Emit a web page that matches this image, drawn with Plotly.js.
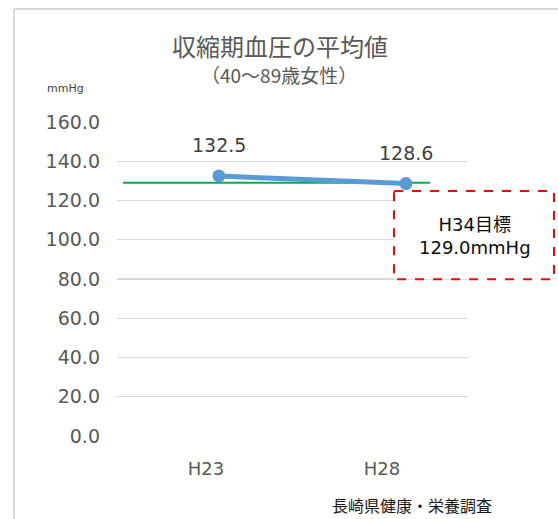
<!DOCTYPE html>
<html>
<head>
<meta charset="utf-8">
<script src="https://cdn.plot.ly/plotly-3.0.1.min.js"></script>
<style>html,body{margin:0;padding:0;background:#fff;}#chart{width:558px;height:519px;}</style>
</head>
<body>
<div id="chart"></div>
<script>
const categories = ['H23', 'H28'];
const values = [132.5, 128.6];
const targetValue = 129.0;
const targetLabel = 'H34目標<br>129.0mmHg';
const yTicks = [0, 20, 40, 60, 80, 100, 120, 140, 160];
const titleText = '収縮期血圧の平均値';
const subtitleText = '（40～89歳女性）';
const unitText = 'mmHg';
const sourceText = '長崎県健康・栄養調査';

const W = 558, H = 519;
const L = 117, R = 468, T = 122, B = 435.7;
const px = x => (x - L) / (R - L);
const py = y => (B - y) / (B - T);

const font = '"DejaVu Sans", "Noto Sans CJK JP", sans-serif';
const cjk = '"Noto Sans CJK JP", "DejaVu Sans", sans-serif';

const data = [
  {
    x: categories, y: values, xaxis: 'x2', yaxis: 'y',
    type: 'scatter', mode: 'lines+markers',
    line: {color: '#5b9bd5', width: 5},
    marker: {color: '#5b9bd5', size: 13},
    hoverinfo: 'skip', showlegend: false
  },
  {
    x: categories, y: [null, null], xaxis: 'x', yaxis: 'y',
    type: 'scatter', mode: 'markers', showlegend: false, hoverinfo: 'skip'
  }
];

function txt(x, y, text, f, size, color) {
  return {x: px(x), y: py(y), xref: 'paper', yref: 'paper', text: text, showarrow: false,
          xanchor: 'center', yanchor: 'middle', font: {family: f, size: size, color: color}};
}

const annotations = values.map((v, i) => ({
  x: categories[i], y: v, xref: 'x2', yref: 'y',
  text: v.toFixed(1), showarrow: false, yshift: 31, xanchor: 'center', yanchor: 'middle',
  font: {family: font, size: 19, color: '#404040'}
}));
annotations.push(
  txt(280, 46, titleText, cjk, 24, '#595959'),
  txt(279, 75, subtitleText, cjk, 19, '#595959'),
  txt(65, 89, unitText, font, 11, '#404040'),
  txt(475, 236, targetLabel, font, 18, '#0d0d0d'),
  txt(412, 505, sourceText, cjk, 16, '#1a1a1a')
);

const shapes = [
  {type: 'line', xref: 'paper', yref: 'y', x0: px(123), x1: px(430), y0: targetValue, y1: targetValue,
   line: {color: '#00b050', width: 2}, layer: 'below'},
  {type: 'rect', xref: 'paper', yref: 'paper', x0: px(394), x1: px(554), y0: py(191), y1: py(279),
   line: {color: '#ff0000', width: 2, dash: 'dash'}, fillcolor: 'rgba(255,255,255,1)'},
  {type: 'line', xref: 'paper', yref: 'paper', x0: px(14), x1: px(14), y0: py(9), y1: py(519),
   line: {color: '#d9d9d9', width: 2}},
  {type: 'line', xref: 'paper', yref: 'paper', x0: px(14), x1: px(560), y0: py(9), y1: py(9),
   line: {color: '#d9d9d9', width: 2}}
];

const layout = {
  width: W, height: H,
  margin: {l: L, r: W - R, t: T, b: H - B, pad: 0},
  paper_bgcolor: '#ffffff', plot_bgcolor: '#ffffff',
  showlegend: false,
  xaxis: {
    type: 'category', range: [-0.506, 1.489], tickvals: categories, ticktext: categories,
    showgrid: false, zeroline: false, showline: false, ticks: '',
    tickfont: {family: font, size: 18, color: '#595959'}, ticklabelstandoff: 20, fixedrange: true
  },
  xaxis2: {
    type: 'category', overlaying: 'x', range: [-0.545, 1.332], visible: false, fixedrange: true
  },
  yaxis: {
    range: [0, 160], tickvals: yTicks, ticktext: yTicks.map(v => v.toFixed(1)),
    showgrid: true, gridcolor: '#d9d9d9', gridwidth: 1.3, zeroline: false, showline: false,
    ticks: '', tickfont: {family: font, size: 19, color: '#595959'}, ticklabelstandoff: 16, fixedrange: true
  },
  shapes: shapes,
  annotations: annotations
};

Plotly.newPlot('chart', data, layout, {displayModeBar: false, staticPlot: true});
</script>
</body>
</html>
